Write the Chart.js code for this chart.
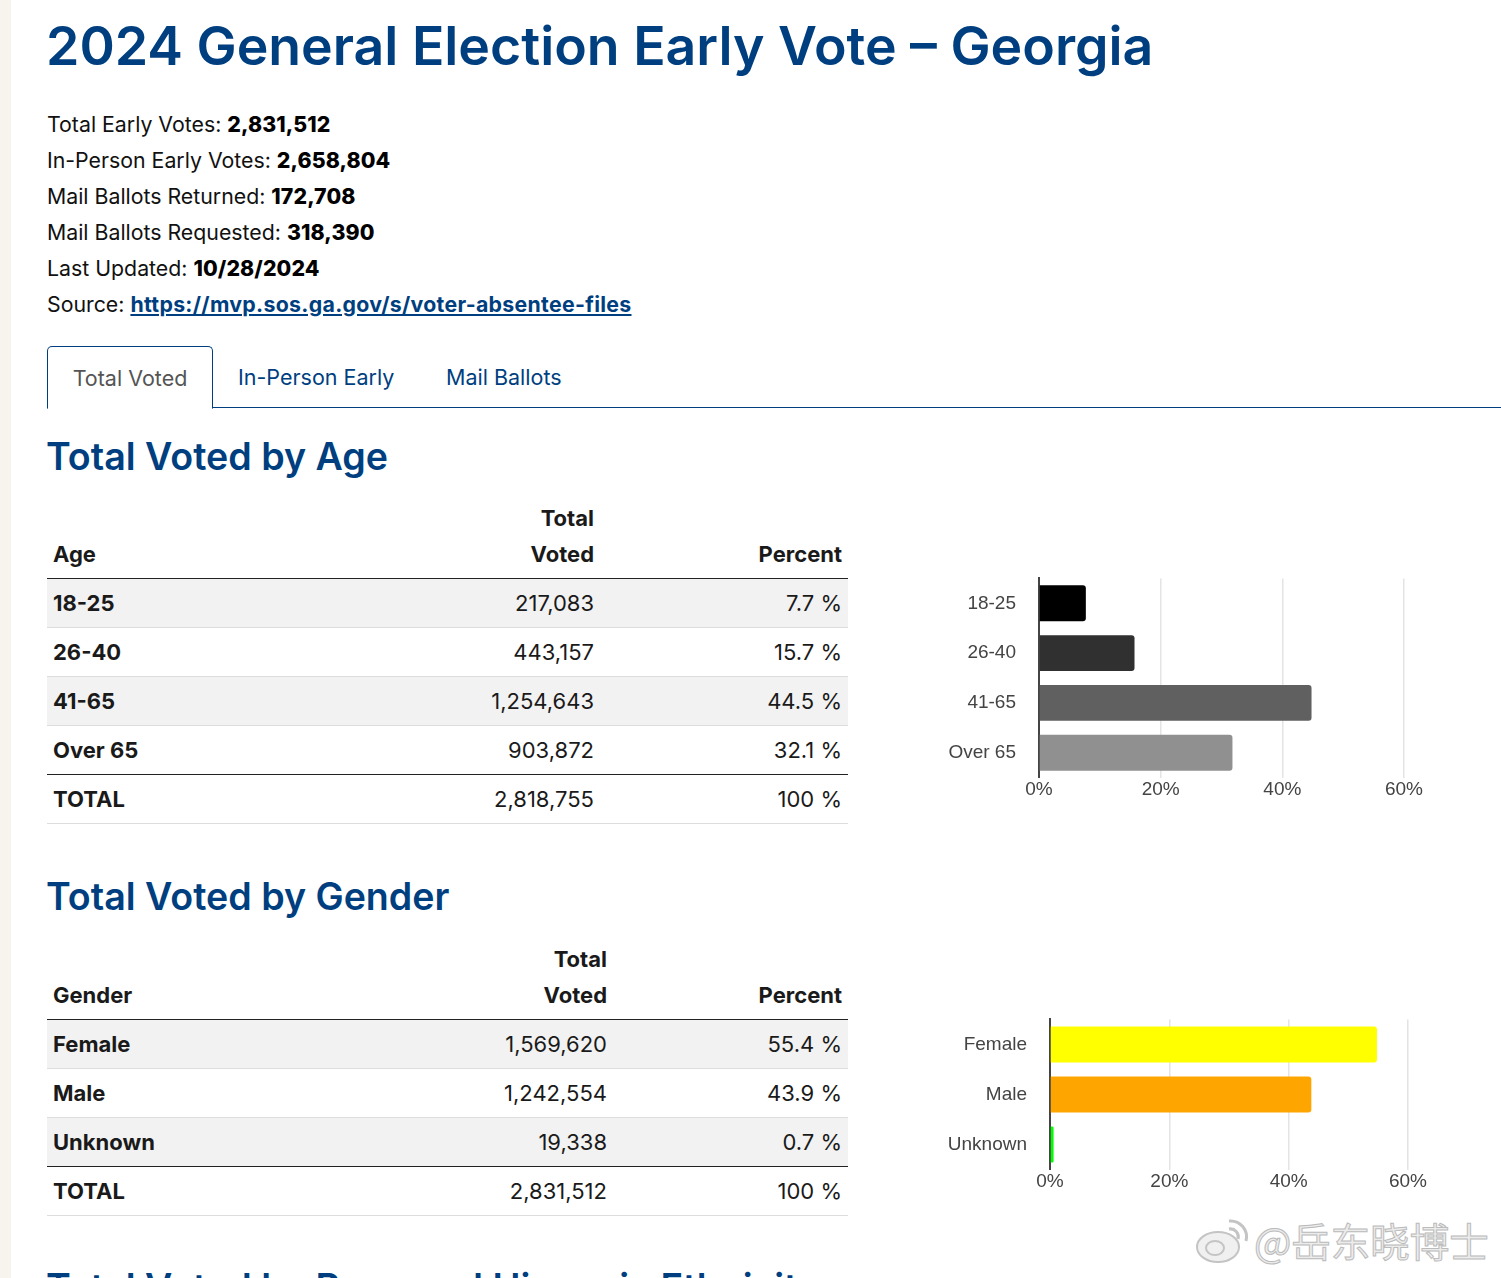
<!DOCTYPE html>
<html>
<head>
<meta charset="utf-8">
<title>2024 General Election Early Vote - Georgia</title>
<script src="https://cdn.jsdelivr.net/npm/chart.js@4"></script>
<style>
html, body { margin: 0; padding: 0; background: #fff; }
body { width: 1501px; height: 1278px; overflow: hidden; position: relative; font-family: Inter, "Noto Sans", sans-serif; color: #1a1a1a; }
.strip { position: absolute; left: 0; top: 0; width: 11px; height: 1278px; background: #f6f4ec; }
h1, h2 { position: absolute; left: 46px; margin: 0; color: #003f7f; font-weight: 600; white-space: nowrap; }
h1 { top: 10px; font-size: 53.6px; line-height: 72px; }
h2 { font-size: 37.6px; line-height: 50px; }
#info { position: absolute; left: 47px; top: 106px; font-size: 21.3px; line-height: 36px; color: #111; }
#info b { color: #000; font-weight: 800; letter-spacing: 0.1px; }
#info a { color: #003f7f; font-weight: 700; letter-spacing: 0.3px; }
#tabs { position: absolute; left: 47px; right: 0; top: 346px; height: 61px; border-bottom: 1px solid #003f7f; }
.tab { position: absolute; top: 0; height: 61px; line-height: 63px; font-size: 21.5px; color: #003f7f; }
.tab.active { left: 0; width: 164px; height: 61px; text-align: center; color: #555; background: #fff; border: 1px solid #003f7f; border-bottom: 1px solid #fff; border-radius: 5px 5px 0 0; }
table { position: absolute; left: 47px; width: 801px; border-collapse: collapse; table-layout: fixed; font-size: 22px; }
th, td { padding: 0 6px; height: 48px; border-bottom: 1px solid #ddd; text-align: right; }
th:first-child, td:first-child { text-align: left; font-weight: 700; }
thead th { height: 36px; line-height: 36px; border: 0; font-weight: 700; vertical-align: top; }
thead tr:last-child th { height: 42px; border-bottom: 1px solid #222; }
tbody tr:nth-child(odd):not(.total) { background: #f2f2f2; }
tr.before-total td { border-bottom: 1px solid #222; }
.chart { position: absolute; left: 900px; width: 560px; }
#mark { position: absolute; left: 1254px; top: 1216px; font-family: "Noto Sans CJK SC", sans-serif; font-size: 39.5px; line-height: 48px; color: #ececec; -webkit-text-stroke: 1px #bbb; white-space: nowrap; }
#logo { position: absolute; left: 1195px; top: 1215px; }
</style>
</head>
<body>
<div class="strip"></div>
<h1>2024 General Election Early Vote – Georgia</h1>
<div id="info"></div>
<div id="tabs">
  <div class="tab active">Total Voted</div>
  <div class="tab" style="left:191px">In-Person Early</div>
  <div class="tab" style="left:399px">Mail Ballots</div>
</div>

<h2 style="top:432px">Total Voted by Age</h2>
<table id="age-table" style="top:500px"></table>
<div class="chart" style="top:552px;height:252px"><canvas id="age-chart"></canvas></div>

<h2 style="top:872px">Total Voted by Gender</h2>
<table id="gender-table" style="top:941px"></table>
<div class="chart" style="top:993px;height:203px"><canvas id="gender-chart"></canvas></div>

<h2 style="top:1263px">Total Voted by Race and Hispanic Ethnicity</h2>
<svg id="logo" width="56" height="50" fill="#f0f0f0" stroke="#c4c4c4" stroke-width="2">
  <ellipse cx="23" cy="32" rx="21" ry="15"/>
  <ellipse cx="20" cy="33" rx="9" ry="7"/>
  <path d="M34 6 a16 16 0 0 1 17 20 M34 14 a8 8 0 0 1 9 10" fill="none" stroke-width="3"/>
</svg>
<div id="mark">@岳东晓博士</div>

<script>
// Values
const infoLabels = ['Total Early Votes', 'In-Person Early Votes', 'Mail Ballots Returned', 'Mail Ballots Requested', 'Last Updated'];
const infoValues = ['2,831,512', '2,658,804', '172,708', '318,390', '10/28/2024'];
const sourceUrl = 'https://mvp.sos.ga.gov/s/voter-absentee-files';

const ageLabels = ['18-25', '26-40', '41-65', 'Over 65'];
const ageVoted = ['217,083', '443,157', '1,254,643', '903,872'];
const agePercent = [7.7, 15.7, 44.5, 32.1];
const ageBars = [7.7, 15.7, 44.8, 31.8];
const ageTotal = '2,818,755';
const ageColors = ['#000000', '#303030', '#606060', '#909090'];

const genderLabels = ['Female', 'Male', 'Unknown'];
const genderVoted = ['1,569,620', '1,242,554', '19,338'];
const genderPercent = [55.4, 43.9, 0.7];
const genderBars = [54.8, 43.8, 0.6];
const genderTotal = '2,831,512';
const genderColors = ['#ffff00', '#ffa500', '#00ff00'];

const axisTicks = [0, 20, 40, 60];

// Fill the summary lines above the tabs
const info = infoLabels.map((label, i) => `${label}: <b>${infoValues[i]}</b>`);
info.push(`Source: <a href="#">${sourceUrl}</a>`);
document.getElementById('info').innerHTML = info.join('<br>');

// Build a results table from its arrays
function fillTable(id, title, labels, voted, percent, total, votedWidth) {
    const rows = labels.map((label, i) => {
        const cls = i === labels.length - 1 ? ' class="before-total"' : '';
        return `<tr${cls}><td>${label}</td><td>${voted[i]}</td><td>${percent[i].toFixed(1)} %</td></tr>`;
    }).join('');
    document.getElementById(id).innerHTML =
        `<colgroup><col style="width:300px"><col style="width:${votedWidth}px"><col></colgroup>` +
        `<thead><tr><th></th><th>Total</th><th></th></tr>` +
        `<tr><th>${title}</th><th>Voted</th><th>Percent</th></tr></thead>` +
        `<tbody>${rows}<tr class="total"><td>TOTAL</td><td>${total}</td><td>100 %</td></tr></tbody>`;
}

// Horizontal percent bars with a fixed plot area
function drawChart(id, labels, values, colors, plotLeft, plotRight) {
    new Chart(document.getElementById(id), {
        type: 'bar',
        data: {
            labels: labels,
            datasets: [{
                data: values,
                backgroundColor: colors,
                borderRadius: 3,
                barPercentage: 0.72,
                categoryPercentage: 1,
            }],
        },
        options: {
            indexAxis: 'y',
            responsive: true,
            maintainAspectRatio: false,
            animation: false,
            layout: { padding: { top: 2, right: 560 - plotRight } },
            plugins: { legend: { display: false }, tooltip: { enabled: false } },
            scales: {
                x: {
                    min: 0,
                    max: 60,
                    afterBuildTicks: (axis) => { axis.ticks = axisTicks.map((value) => ({ value })); },
                    grid: { color: '#e4e4e4', lineWidth: 1.5, drawTicks: false },
                    border: { display: false },
                    ticks: {
                        padding: 1,
                        maxRotation: 0,
                        color: '#444',
                        font: { family: '"Liberation Sans"', size: 19 },
                        callback: (value) => `${value}%`,
                    },
                },
                y: {
                    afterFit: (axis) => { axis.width = plotLeft; },
                    grid: { display: false },
                    border: { display: true, color: '#444', width: 2 },
                    ticks: {
                        padding: 15,
                        color: '#444',
                        font: { family: '"Liberation Sans"', size: 19 },
                    },
                },
            },
        },
    });
}

fillTable('age-table', 'Age', ageLabels, ageVoted, agePercent, ageTotal, 253);
fillTable('gender-table', 'Gender', genderLabels, genderVoted, genderPercent, genderTotal, 266);

drawChart('age-chart', ageLabels, ageBars, ageColors, 139, 504);
drawChart('gender-chart', genderLabels, genderBars, genderColors, 150, 508);
</script>
</body>
</html>
